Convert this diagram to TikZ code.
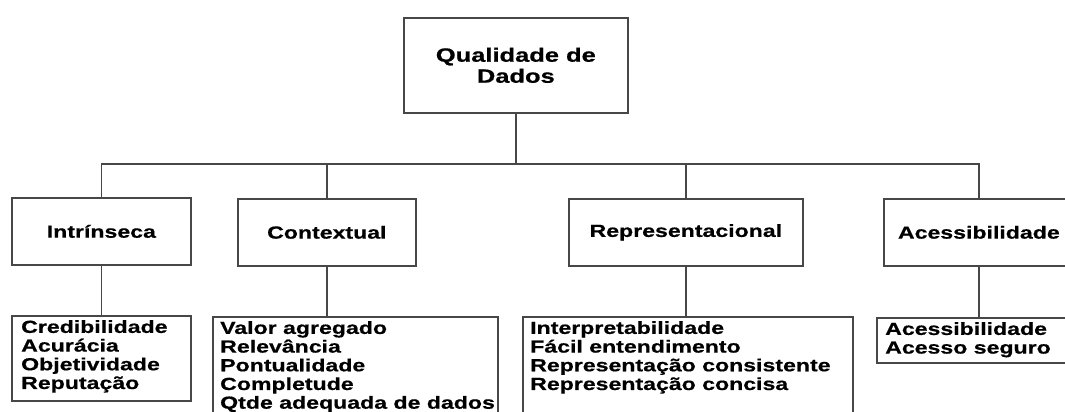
\documentclass[tikz,border=0pt]{standalone}
\usepackage{fontspec}
\setmainfont{Liberation Sans}[FakeStretch=1.32, BoldFeatures={FakeBold=0.6}]
\usetikzlibrary{positioning, calc}

\begin{document}
\begin{tikzpicture}[
    x=1pt, y=-1pt,
    topbox/.style={
        rectangle,
        draw=black!72,
        line width=1.7pt,
        anchor=north west,
        align=center,
        font=\bfseries\fontsize{19.3}{21}\selectfont
    },
    catbox/.style={
        topbox,
        minimum height=67pt,
        font=\bfseries\fontsize{17.5}{21}\selectfont
    },
    listbox/.style={
        rectangle,
        draw=black!72,
        line width=1.7pt,
        anchor=north west,
        inner sep=0pt
    },
    listtext/.style={
        anchor=north west,
        inner sep=0pt,
        align=left,
        font=\bfseries\fontsize{17.5}{18.7}\selectfont
    },
    link/.style={
        draw=black!72,
        line width=1.7pt
    }
]

    % canvas
    \useasboundingbox (0,0) rectangle (1065,412);
    \clip (0,0) rectangle (1065,412);

    % =======================================================
    % Root
    % =======================================================
    \node[topbox, minimum width=224pt, minimum height=95pt] (qual) at (403,17) {Qualidade de\\Dados};

    % =======================================================
    % Categories
    % =======================================================
    \node[catbox, minimum width=179pt] (intr) at (11,197) {Intrínseca};
    \node[catbox, minimum width=178pt] (ctx) at (237,198) {Contextual};
    \node[catbox, minimum width=234pt] (rep) at (568,198) {Representacional};
    \node[catbox, minimum width=190pt] (ace) at (883,198) {Acessibilidade};

    % Bus line
    \coordinate (busL) at (100,164);
    \coordinate (busR) at (978,164);
    \draw[link] (qual.south) -- (qual.south |- busL);
    \draw[link] (intr.north) |- (ace.north |- busR) -- (ace.north);
    \draw[link] (ctx.north) -- (ctx.north |- busL);
    \draw[link] (rep.north) -- (rep.north |- busL);

    % =======================================================
    % Dimension lists
    % =======================================================
    \node[listbox, minimum width=179pt, minimum height=85pt] (intrList) at (11,315) {};
    \node[listbox, minimum width=285pt, minimum height=110pt] (ctxList) at (212,316) {};
    \node[listbox, minimum width=330pt, minimum height=110pt] (repList) at (522,316) {};
    \node[listbox, minimum width=200pt, minimum height=45pt] (aceList) at (876,317) {};

    \node[listtext] (intrTxt) at ([xshift=10pt, yshift=-5pt]intrList.north west)
        {Credibilidade\\Acurácia\\Objetividade\\Reputação};
    \node[listtext] (ctxTxt) at ([xshift=8pt, yshift=-5pt]ctxList.north west)
        {Valor agregado\\Relevância\\Pontualidade\\Completude\\Qtde adequada de dados};
    \node[listtext] (repTxt) at ([xshift=8pt, yshift=-5pt]repList.north west)
        {Interpretabilidade\\Fácil entendimento\\Representação consistente\\Representação concisa};
    \node[listtext] (aceTxt) at ([xshift=9pt, yshift=-5pt]aceList.north west)
        {Acessibilidade\\Acesso seguro};

    % Category to list
    \draw[link] (intr.south) -- (intr.south |- intrList.north);
    \draw[link] (ctx.south) -- (ctx.south |- ctxList.north);
    \draw[link] (rep.south) -- (rep.south |- repList.north);
    \draw[link] (ace.south) -- (ace.south |- aceList.north);

\end{tikzpicture}
\end{document}
